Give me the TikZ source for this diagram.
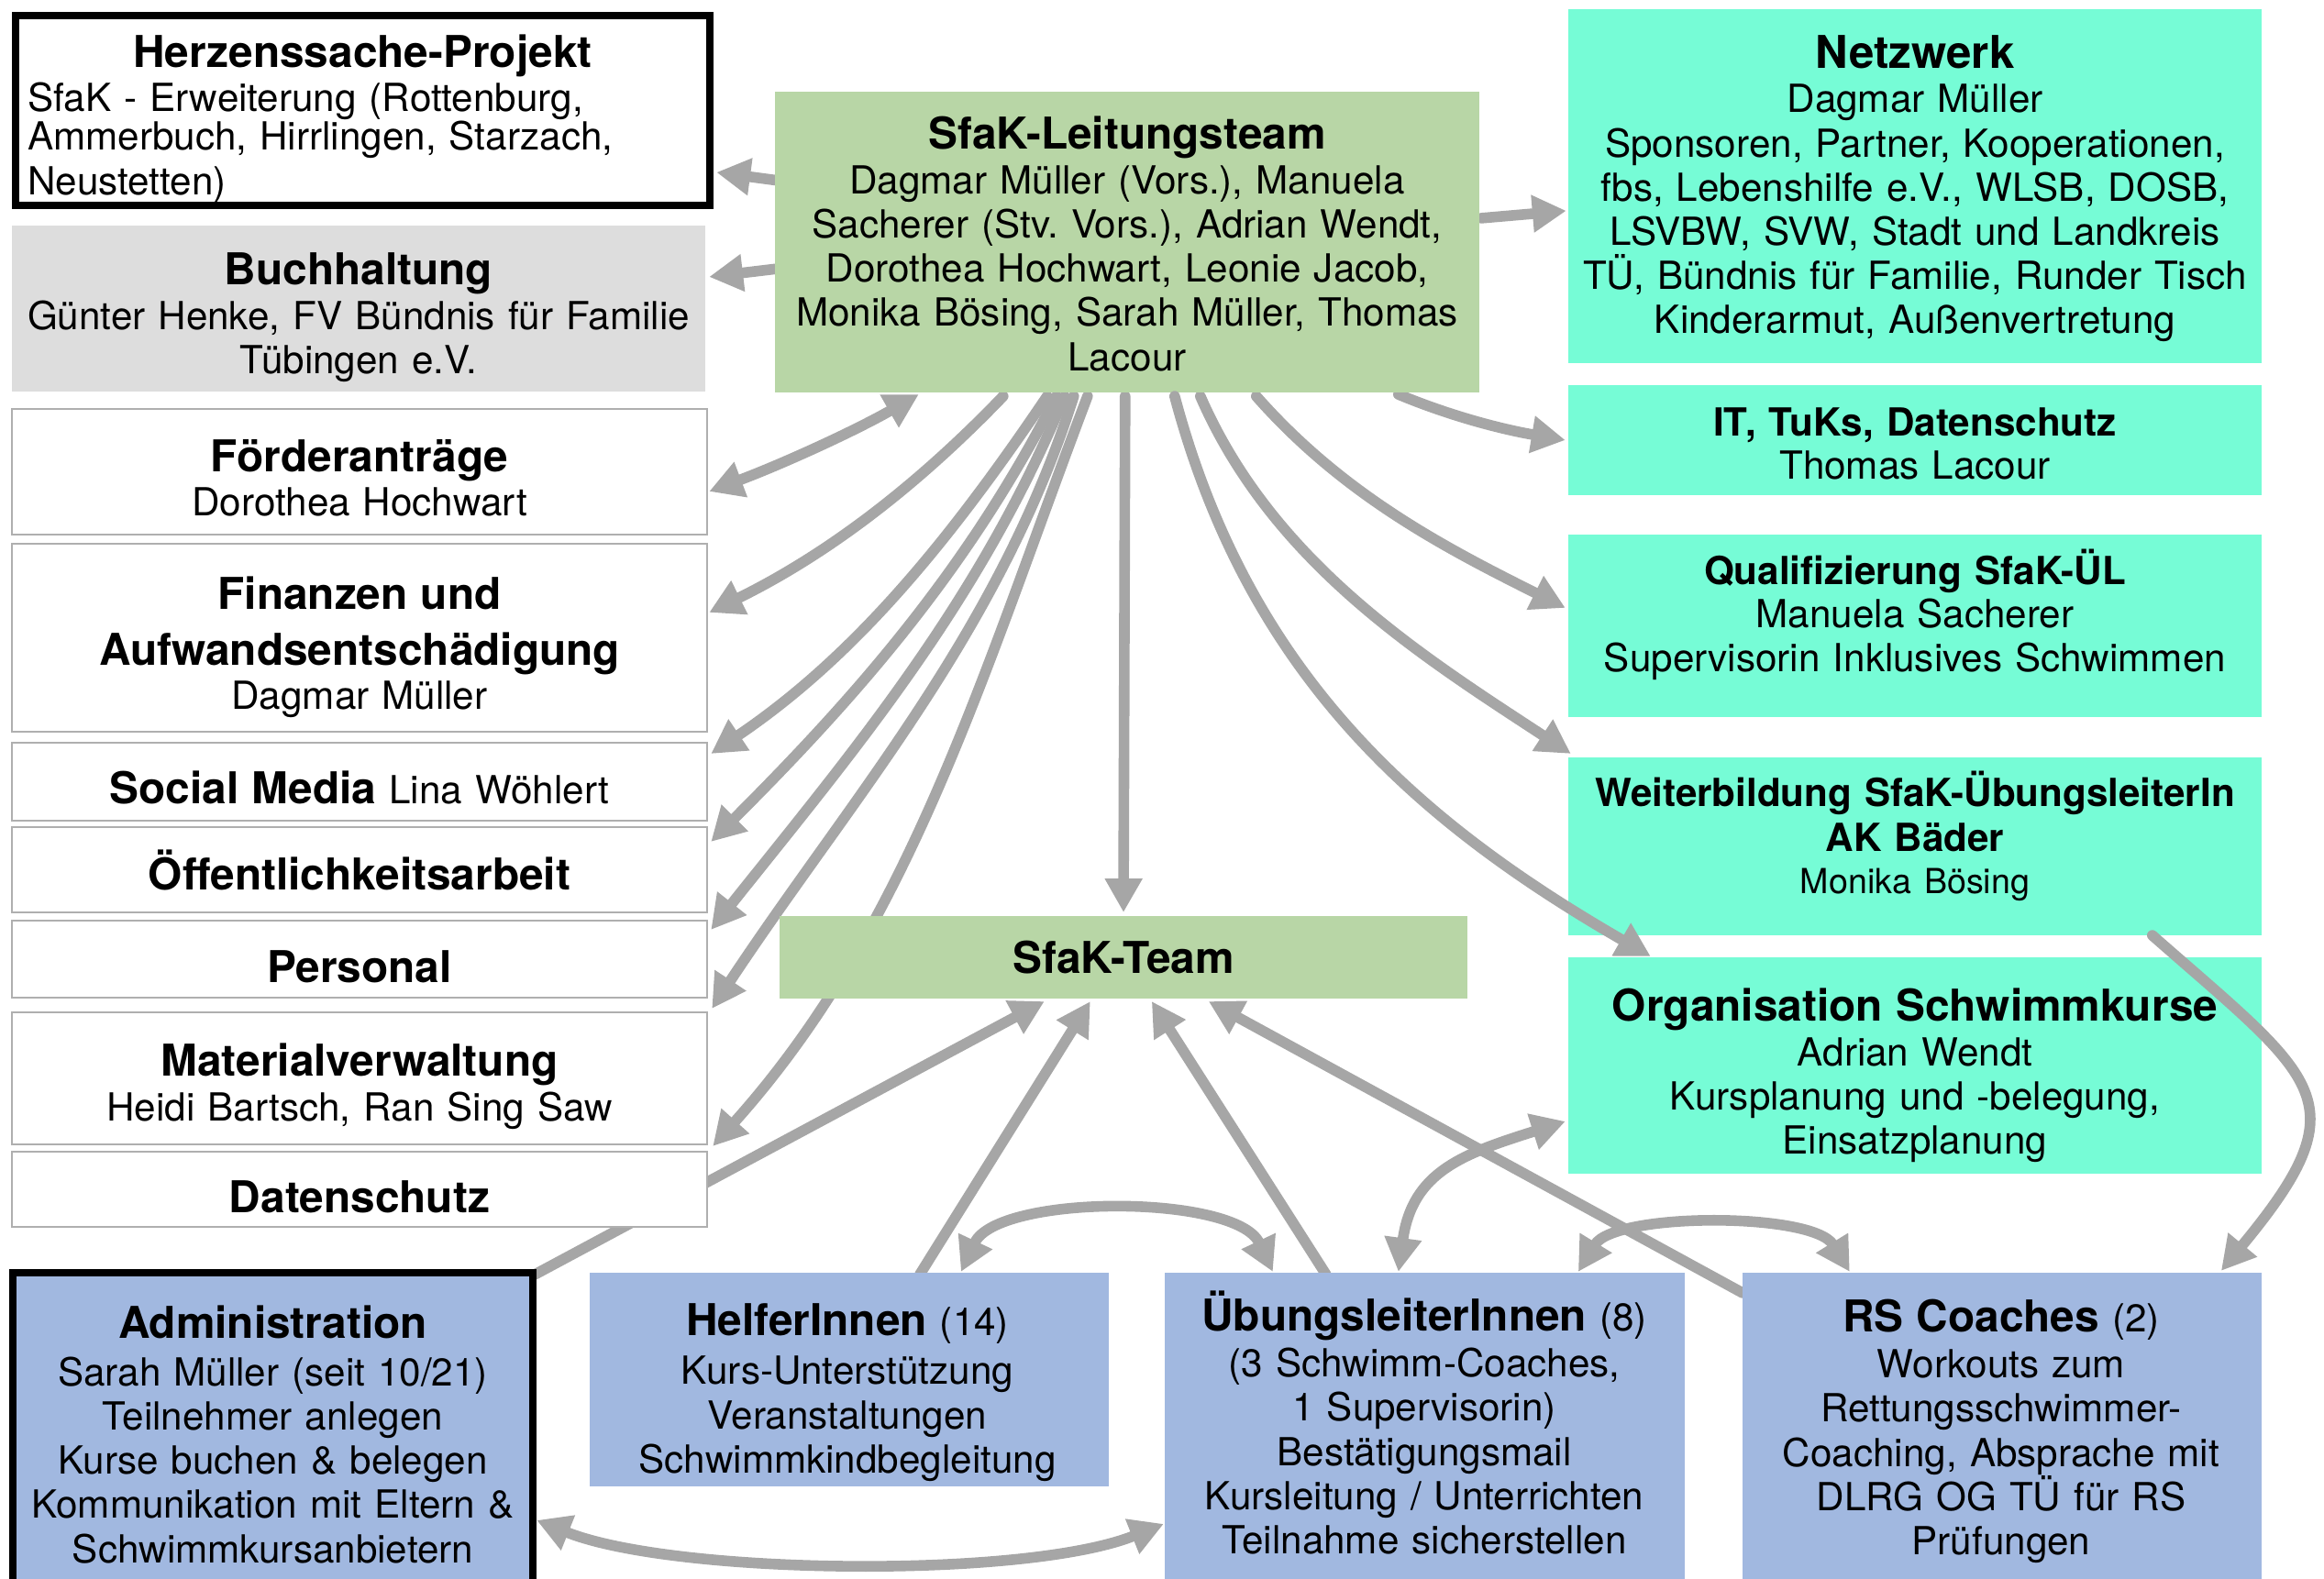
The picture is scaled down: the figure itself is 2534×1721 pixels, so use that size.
\documentclass[tikz,border=0pt]{standalone}
\usepackage{fontspec}
\setmainfont{TeX Gyre Heros}
\usetikzlibrary{arrows.meta,calc}
\definecolor{ltgreen}{RGB}{184,214,166}
\definecolor{mint}{RGB}{118,252,214}
\definecolor{lblue}{RGB}{161,184,224}
\definecolor{lgray}{RGB}{221,221,221}
\definecolor{arrgray}{RGB}{166,166,166}
\definecolor{bordgray}{RGB}{175,175,175}
\newcommand{\bodyfont}{\fontsize{12}{13.7}\selectfont\frenchspacing}
\newcommand{\hdfont}{\fontsize{13.6}{16}\selectfont\bfseries}
\newcommand{\boxhd}[2][0.1pt]{{\hdfont #2\par}\vspace{#1}}
\newcommand{\smhd}[2][-0.3pt]{{\fontsize{12}{14}\selectfont\bfseries #2\par}\vspace{#1}}
\newcommand{\cnt}[1]{{\mdseries\fontsize{12}{13.7}\selectfont #1}}
\pgfdeclarelayer{bg}
\pgfsetlayers{bg,main}
\tikzset{
  base/.style={rectangle, inner sep=0pt, outer sep=0pt, align=center, font=\bodyfont},
  lbox/.style={base, draw=bordgray, line width=0.6pt, fill=white, minimum width=7.58cm},
  rbox/.style={base, fill=mint, minimum width=7.56cm},
  bbox/.style={base, fill=lblue, minimum width=5.66cm},
  ltxt/.style={base, text width=7.4cm},
  rtxt/.style={base, text width=7.5cm},
  btxt/.style={base, text width=5.5cm, anchor=north},
  arr/.style={draw=arrgray, line width=3.3pt, line cap=round, -{Triangle[length=10.5pt,width=11pt]}},
  darr/.style={arr, {Triangle[length=10.5pt,width=11pt]}-{Triangle[length=10.5pt,width=11pt]}}
}
\begin{document}
\begin{tikzpicture}[x=0.01cm,y=-0.01cm]
\useasboundingbox (0,0) rectangle (2534,1721);
\clip (0,0) rectangle (2534,1721);

% ---------- boxes ----------
\node[base, draw=black, line width=2.3pt, fill=white, minimum width=7.57cm, minimum height=2.07cm] (herz) at (395.5,120.5) {};
\node[base, text width=7.3cm, align=left] (herztxt) at ($(herz.center)+(0,9)$)
  {{\centering\hdfont Herzenssache-Projekt\par}\vspace{1.5pt}\fontsize{12}{12.1}\selectfont SfaK - Erweiterung (Rottenburg,\\Ammerbuch, Hirrlingen, Starzach,\\Neustetten)};
\node[base, fill=lgray, minimum width=7.56cm, minimum height=1.81cm] (buch) at (391,336.5) {};
\node[ltxt] (buchtxt) at ($(buch.center)+(0,10)$) {\boxhd{Buchhaltung}Günter Henke, FV Bündnis für Familie\\Tübingen e.V.};
\node[lbox, minimum height=1.37cm] (foer) at (392,514.5) {};
\node[ltxt] (foertxt) at ($(foer.center)+(0,7)$) {\boxhd{Förderanträge}Dorothea Hochwart};
\node[lbox, minimum height=2.05cm] (fin) at (392,695.5) {};
\node[ltxt] (fintxt) at ($(fin.center)+(0,10)$)
  {{\fontsize{13.6}{17.4}\selectfont\bfseries Finanzen und\\Aufwandsentschädigung\par}Dagmar Müller};
\node[lbox, minimum height=0.85cm] (soc) at (392,852.5) {};
\node[ltxt] (soctxt) at ($(soc.center)+(0,6)$) {{\hdfont Social Media} Lina Wöhlert};
\node[lbox, minimum height=0.93cm] (oeff) at (392,948.5) {};
\node[ltxt] (oefftxt) at ($(oeff.center)+(0,0)$) {{\hdfont Öffentlichkeitsarbeit}};
\node[lbox, minimum height=0.84cm] (pers) at (392,1046) {};
\node[ltxt] (perstxt) at ($(pers.center)+(0,8)$) {{\hdfont Personal}};
\node[lbox, minimum height=1.44cm] (mat) at (392,1176) {};
\node[ltxt] (mattxt) at ($(mat.center)+(0,9)$) {\boxhd{Materialverwaltung}Heidi Bartsch, Ran Sing Saw};
\node[lbox, minimum height=0.82cm] (dat) at (392,1297) {};
\node[ltxt] (dattxt) at ($(dat.center)+(0,8)$) {{\hdfont Datenschutz}};

\node[base, fill=ltgreen, minimum width=7.68cm, minimum height=3.28cm] (lt) at (1229,264) {};
\node[base, text width=7.6cm] (lttxt) at ($(lt.center)+(0,2)$)
  {\boxhd{SfaK-Leitungsteam}Dagmar Müller (Vors.), Manuela\\Sacherer (Stv. Vors.), Adrian Wendt,\\Dorothea Hochwart, Leonie Jacob,\\Monika Bösing, Sarah Müller, Thomas\\Lacour};
\node[base, fill=ltgreen, minimum width=7.5cm, minimum height=0.9cm] (team) at (1225,1044) {};
\node[base] (teamtxt) at (team.center) {{\hdfont SfaK-Team}};

\node[rbox, minimum height=3.86cm] (netz) at (2088,203) {};
\node[rtxt] (netztxt) at ($(netz.center)+(0,3)$)
  {{\fontsize{14}{16}\selectfont\bfseries Netzwerk\par}Dagmar Müller\\Sponsoren, Partner, Kooperationen,\\fbs, Lebenshilfe e.V., WLSB, DOSB,\\LSVBW, SVW, Stadt und Landkreis\\TÜ, Bündnis für Familie, Runder Tisch\\Kinderarmut, Außenvertretung};
\node[rbox, minimum height=1.2cm] (it) at (2088,480) {};
\node[rtxt] (ittxt) at ($(it.center)+(0,4)$) {\smhd{IT, TuKs, Datenschutz}Thomas Lacour};
\node[rbox, minimum height=1.99cm] (qual) at (2088,682.5) {};
\node[rtxt] (qualtxt) at ($(qual.center)+(0,-12)$)
  {\smhd{Qualifizierung SfaK-ÜL}Manuela Sacherer\\Supervisorin Inklusives Schwimmen};
\node[rbox, minimum height=1.94cm] (weit) at (2088,923) {};
\node[rtxt] (weittxt) at ($(weit.center)+(0,-11)$)
  {{\fontsize{12}{13.8}\selectfont\bfseries Weiterbildung SfaK-ÜbungsleiterIn\\AK Bäder\par}\vspace{-0.4pt}{\fontsize{10.7}{13.3}\selectfont Monika Bösing}};
\node[rbox, minimum height=2.36cm] (org) at (2088,1162) {};
\node[rtxt] (orgtxt) at ($(org.center)+(0,11)$)
  {\boxhd{Organisation Schwimmkurse}Adrian Wendt\\Kursplanung und -belegung,\\Einsatzplanung};

\node[bbox, draw=black, line width=2.3pt, minimum width=5.67cm, minimum height=3.72cm] (adm) at (297.5,1574) {};
\node[bbox, minimum height=2.33cm] (helf) at (926,1504.5) {};
\node[bbox, minimum width=5.67cm, minimum height=3.72cm] (ueb) at (1553.5,1574) {};
\node[bbox, minimum height=3.72cm] (rs) at (2183,1574) {};

\node[btxt] (admtxt) at (297.5,1414)
  {\boxhd[1pt]{\rule{0pt}{13pt}Administration}Sarah Müller (seit 10/21)\\Teilnehmer anlegen\\Kurse buchen \& belegen\\Kommunikation mit Eltern \&\\Schwimmkursanbietern};
\node[btxt] (helftxt) at (924,1411)
  {\boxhd[1.4pt]{\rule{0pt}{13pt}HelferInnen \cnt{(14)}}Kurs-Unterstützung\\Veranstaltungen\\Schwimmkindbegleitung};
\node[btxt] (uebtxt) at (1553,1406)
  {\boxhd[0.5pt]{\rule{0pt}{13pt}ÜbungsleiterInnen \cnt{(8)}}(3 Schwimm-Coaches,\\1 Supervisorin)\\Bestätigungsmail\\Kursleitung / Unterrichten\\Teilnahme sicherstellen};
\node[btxt] (rstxt) at (2182,1407)
  {\boxhd[0.5pt]{\rule{0pt}{13pt}RS Coaches \cnt{(2)}}Workouts zum\\Rettungsschwimmer-\\Coaching, Absprache mit\\DLRG OG TÜ für RS\\Prüfungen};

% ---------- connectors (behind the boxes) ----------
\begin{pgfonlayer}{bg}
\draw[arr] ($(lt.north west)+(4,97)$) -- ($(herz.north east)+(7,171)$);
\draw[arr] ($(lt.north west)+(4,193)$) -- ($(buch.north east)+(4,56)$);
\draw[darr] ($(lt.south west)+(157,2)$) .. controls +(-70,40) and +(80,-30) .. ($(foer.north east)+(2,90)$);
\draw[arr] ($(lt.south west)+(249,4)$) .. controls +(-97,101) and +(126,-62) .. ($(fin.north east)+(2,75)$);
\draw[arr] ($(lt.south west)+(297,4)$) .. controls +(-106,157) and +(157,-106) .. ($(soc.north east)+(4,12)$);
\draw[arr] ($(lt.south west)+(307,4)$) .. controls +(-98,193) and +(152,-152) .. ($(oeff.north east)+(4,16)$);
\draw[arr] ($(lt.south west)+(316,4)$) .. controls +(-93,226) and +(153,-192) .. ($(pers.north east)+(4,10)$);
\draw[arr] ($(lt.south west)+(326,4)$) .. controls +(-82,259) and +(150,-227) .. ($(mat.north east)+(5,-4)$);
\draw[arr] ($(lt.south west)+(341,4)$) .. controls +(-114,301) and +(216,-241) .. ($(dat.north east)+(6,-6)$);
\draw[arr] ($(lt.south west)+(382,4)$) -- ($(team.north)+(0,-4)$);
\draw[arr] ($(lt.south west)+(464,4)$) .. controls +(79,181) and +(-165,-108) .. ($(weit.north west)+(3,-4)$);
\draw[arr] ($(lt.south west)+(525,4)$) .. controls +(95,108) and +(-130,-65) .. ($(qual.north west)+(-3,80)$);
\draw[arr] ($(lt.south west)+(680,2)$) .. controls +(60,25) and +(-65,-11) .. ($(it.north west)+(-3,60)$);
\draw[arr] ($(lt.north east)+(2,138)$) -- ($(netz.north west)+(-2,220)$);

\draw[arr] ($(adm.north east)+(2,2)$) -- ($(team.south west)+(289,3)$);
\draw[arr] ($(helf.north west)+(360,2)$) -- ($(team.south west)+(339,3)$);
\draw[arr] ($(ueb.north west)+(176,2)$) -- ($(team.south west)+(406,3)$);
\draw[arr] ($(rs.north west)+(0,22)$) -- ($(team.south west)+(468,3)$);

\draw[darr] ($(adm.north east)+(4,270)$) .. controls +(150,60) and +(-150,60) .. ($(ueb.north west)+(-1,274)$);
\draw[darr] ($(helf.north west)+(405,-1)$) .. controls +(40,-85) and +(-40,-85) .. ($(ueb.north west)+(118,-1)$);
\draw[darr] ($(ueb.north west)+(255,-1)$) .. controls +(15,-110) and +(-110,35) .. ($(org.north west)+(-3,179)$);
\draw[darr] ($(ueb.north west)+(451,-1)$) .. controls +(40,-65) and +(-40,-65) .. ($(rs.north west)+(117,-1)$);
\end{pgfonlayer}

% connectors drawn over boxes
\draw[arr] ($(lt.south west)+(436,4)$) .. controls +(80,300) and +(-260,-150) .. ($(org.north west)+(90,-1)$);
\draw[arr] ($(weit.south west)+(637,0)$) .. controls +(181,159) and +(154,-186) .. ($(rs.north west)+(522,-2)$);
\end{tikzpicture}
\end{document}
